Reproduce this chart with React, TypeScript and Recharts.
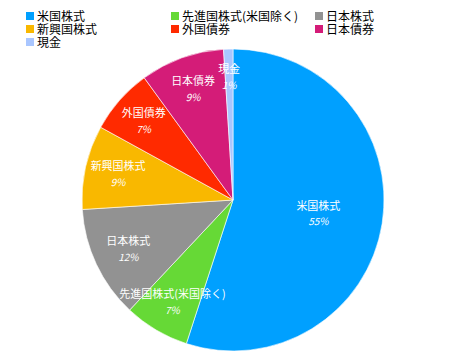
import { PieChart, Pie, Cell } from "recharts";

const categories = ["米国株式", "先進国株式(米国除く)", "日本株式", "新興国株式", "外国債券", "日本債券", "現金"];
const shares = [55, 7, 12, 9, 7, 9, 1];
const colors = ["#00a0ff", "#66d936", "#929292", "#f9b800", "#ff2a00", "#d41c78", "#a9c6ff"];

const data = categories.map((name, i) => ({ name, value: shares[i] }));

const RAD = Math.PI / 180;

// labels sit closer to the middle for the big slice, like a centroid
const renderLabel = (props: any) => {
  const { cx, cy, midAngle, outerRadius, index, percent } = props;
  const r = outerRadius * (0.82 - 0.45 * percent);
  const x = cx + r * Math.cos(-midAngle * RAD);
  const y = cy + r * Math.sin(-midAngle * RAD);
  return (
    <g>
      <text x={x} y={y - 7} fill="#fff" fontSize={11} textAnchor="middle" dominantBaseline="middle">
        {categories[index]}
      </text>
      <text x={x} y={y + 9} fill="#fff" fontSize={10} fontStyle="italic" textAnchor="middle" dominantBaseline="middle">
        {shares[index]}%
      </text>
    </g>
  );
};

const LegendBox = () => (
  <div
    style={{
      position: "absolute",
      left: 26,
      top: 9,
      display: "grid",
      gridTemplateColumns: "145px 144px 120px",
      gridAutoRows: "13px",
      fontSize: 12,
      lineHeight: "13px",
      color: "#000",
    }}
  >
    {categories.map((c, i) => (
      <span key={c} style={{ display: "flex", alignItems: "center", gap: 3, whiteSpace: "nowrap", height: 13 }}>
        <span style={{ width: 8, height: 8, background: colors[i], display: "inline-block", flex: "none" }} />
        {c}
      </span>
    ))}
  </div>
);

const App = () => {
  return (
    <div style={{ position: "absolute", left: 0, top: 0, width: 469, height: 360, background: "#fff", fontFamily: "'Noto Sans CJK JP', sans-serif" }}>
      <PieChart width={469} height={360} margin={{ top: 0, right: 0, bottom: 0, left: 0 }}>
        <Pie
          data={data}
          dataKey="value"
          cx={233}
          cy={200}
          outerRadius={151}
          startAngle={90}
          endAngle={-270}
          stroke="#ffffff"
          strokeWidth={0.6}
          label={renderLabel}
          labelLine={false}
          isAnimationActive={false}
        >
          {data.map((d, i) => (
            <Cell key={d.name} fill={colors[i]} />
          ))}
        </Pie>
      </PieChart>
      <LegendBox />
    </div>
  );
};

export default App;
